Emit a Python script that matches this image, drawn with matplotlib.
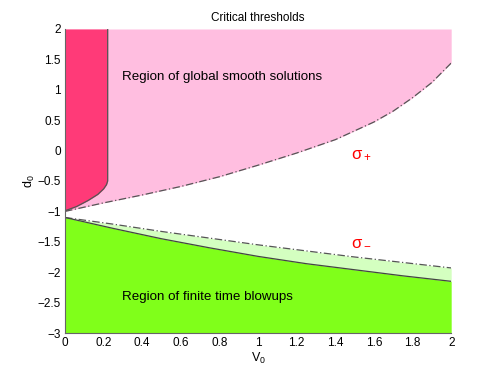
import matplotlib
matplotlib.use("Agg")
import matplotlib.pyplot as plt

plt.rcParams["font.family"] = ["Liberation Sans", "DejaVu Sans"]
plt.rcParams["mathtext.fontset"] = "custom"
plt.rcParams["mathtext.rm"] = "Liberation Sans"
plt.rcParams["mathtext.it"] = "Liberation Sans"

# =========================
# DATA
# =========================
v0 = [0, 0.2, 0.4, 0.6, 0.8, 1.0, 1.2, 1.4, 1.6, 1.7, 1.8, 1.9, 2.0]
sigma_plus = [-1.00, -0.86, -0.73, -0.59, -0.43, -0.24, -0.04, 0.18, 0.47, 0.65, 0.87, 1.12, 1.44]

v0_low = [0, 0.25, 0.5, 0.75, 1.0, 1.25, 1.5, 1.75, 2.0]
sigma_minus = [-1.10, -1.21, -1.33, -1.44, -1.55, -1.65, -1.75, -1.84, -1.93]
blowup = [-1.10, -1.28, -1.45, -1.60, -1.74, -1.86, -1.96, -2.06, -2.15]

# boundary of the dark pink region (x as a function of d0)
edge_d0 = [-0.99, -0.92, -0.82, -0.72, -0.63, -0.56, -0.50, 2.0]
edge_v0 = [0.0, 0.06, 0.12, 0.17, 0.20, 0.215, 0.221, 0.221]

# =========================
# PLOT
# =========================
fig = plt.figure(figsize=(4.98, 3.75), dpi=100)
ax = fig.add_axes([0.1305, 0.112, 0.7755, 0.8107])

ax.fill_between(v0, sigma_plus, 2, color="#ffbee0", lw=0)
ax.fill_betweenx(edge_d0, 0, edge_v0, color="#ff3a78", lw=0)
ax.plot(edge_v0, edge_d0, color="#555555", lw=0.9)
ax.fill_between(v0_low, blowup, sigma_minus, color="#d4ffc0", lw=0)
ax.fill_between(v0_low, -3, blowup, color="#80ff1a", lw=0)

ax.plot(v0, sigma_plus, color="#555555", lw=0.9, ls=(0, (6, 2, 1, 2)))
ax.plot(v0_low, sigma_minus, color="#555555", lw=0.9, ls=(0, (6, 2, 1, 2)))
ax.plot(v0_low, blowup, color="#444444", lw=0.9)

ax.text(0.295, 1.21, "Region of global smooth solutions", fontsize=9.6, va="center")
ax.text(0.295, -2.41, "Region of finite time blowups", fontsize=9.6, va="center")
ax.text(1.48, -0.07, r"$\sigma_+$", color="red", fontsize=12, va="center")
ax.text(1.48, -1.5, r"$\sigma_-$", color="red", fontsize=12, va="center")

ax.set_xlim(0, 2)
ax.set_ylim(-3, 2)
ax.set_xticks([0, 0.2, 0.4, 0.6, 0.8, 1, 1.2, 1.4, 1.6, 1.8, 2])
ax.set_xticklabels(["0", "0.2", "0.4", "0.6", "0.8", "1", "1.2", "1.4", "1.6", "1.8", "2"])
ax.set_yticks([-3, -2.5, -2, -1.5, -1, -0.5, 0, 0.5, 1, 1.5, 2])
ax.set_yticklabels(["\u22123", "\u22122.5", "\u22122", "\u22121.5", "\u22121", "\u22120.5",
                    "0", "0.5", "1", "1.5", "2"])
ax.tick_params(length=0, labelsize=8.5, pad=3)
ax.set_xlabel(r"V$_0$", fontsize=9, labelpad=1)
ax.set_ylabel(r"d$_0$", fontsize=9, labelpad=0)
ax.set_title("Critical thresholds", fontsize=8.5, pad=6)

for s in ["top", "right"]:
    ax.spines[s].set_visible(False)
for s in ["left", "bottom"]:
    ax.spines[s].set_color("#666666")
    ax.spines[s].set_linewidth(0.8)

fig.savefig("out.png", dpi=100)
